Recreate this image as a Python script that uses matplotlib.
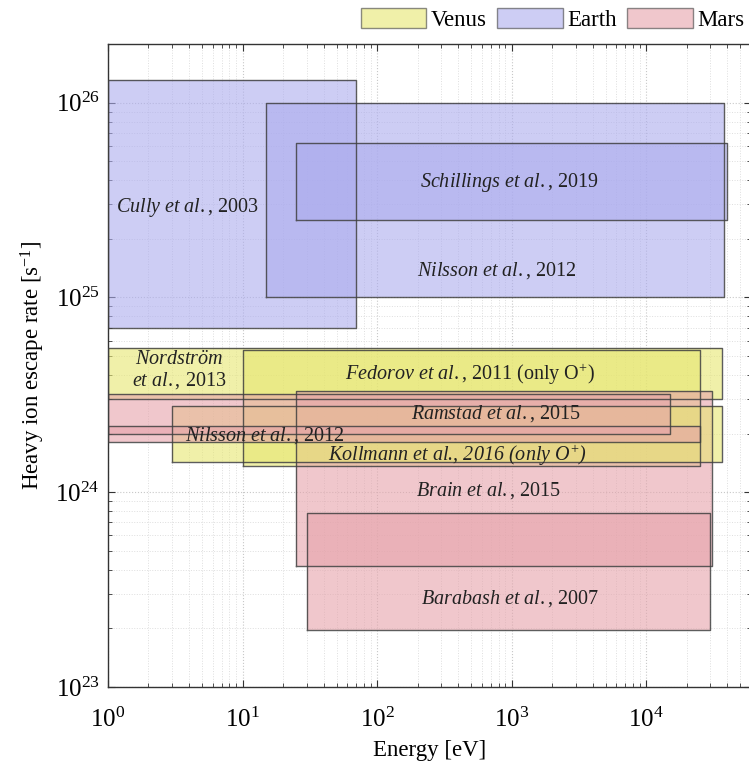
import numpy as np
import matplotlib
matplotlib.use("Agg")
import matplotlib.pyplot as plt
from matplotlib.patches import Patch
from matplotlib.ticker import LogLocator, NullFormatter

plt.rcParams['font.family'] = ['Liberation Serif', 'DejaVu Serif']
plt.rcParams['mathtext.fontset'] = 'custom'
plt.rcParams['mathtext.rm'] = 'Liberation Serif'
plt.rcParams['mathtext.it'] = 'Liberation Serif:italic'

# escape-rate ranges per study: energy range [eV] and rate range [s^-1]
# (listed in drawing order)
planet = ['Earth', 'Earth', 'Earth',
          'Venus', 'Venus',
          'Mars', 'Mars',
          'Venus',
          'Mars', 'Mars']
e_lo = [1, 15, 25,
        1, 10,
        25, 30,
        3,
        1, 1]
e_hi = [70, 3.8e4, 4.0e4,
        3.7e4, 2.5e4,
        3.1e4, 3.0e4,
        3.7e4,
        1.5e4, 2.5e4]
r_lo = [7.0e24, 1.0e25, 2.5e25,
        3.0e24, 1.37e24,
        4.2e23, 1.96e23,
        1.43e24,
        2.0e24, 1.8e24]
r_hi = [1.3e26, 1.0e26, 6.2e25,
        5.5e24, 5.35e24,
        3.3e24, 7.8e23,
        2.76e24,
        3.18e24, 2.18e24]

# study labels and where they sit (energy, rate); last flag = fully italic
labels = [r'$\mathit{Cully\ et\ al.}$, 2003',
          r'$\mathit{Nilsson\ et\ al.}$, 2012',
          r'$\mathit{Schillings\ et\ al.}$, 2019',
          '$\\mathit{Nordstr\\ddot{o}m}$\n$\\mathit{et\\ al.}$, 2013',
          r'$\mathit{Fedorov\ et\ al.}$, 2011 (only O$^{+}$)',
          r'$\mathit{Brain\ et\ al.}$, 2015',
          r'$\mathit{Barabash\ et\ al.}$, 2007',
          r'Kollmann et al., 2016 (only $\mathit{O}^{+}$)',
          r'$\mathit{Ramstad\ et\ al.}$, 2015',
          r'$\mathit{Nilsson\ et\ al.}$, 2012']
label_italic = [False, False, False, False, False, False, False, True, False, False]
label_e = [3.9, 780, 970, 3.4, 490, 670, 970, 394, 767, 14.7]
label_r = [2.9e25, 1.37e25, 3.9e25, 4.17e24, 4.0e24, 1.02e24, 2.86e23, 1.55e24, 2.54e24, 1.96e24]

legend_order = ['Venus', 'Earth', 'Mars']
face = {'Venus': (230/255, 230/255, 113/255),
        'Earth': (172/255, 172/255, 238/255),
        'Mars': (230/255, 163/255, 171/255)}
alpha = 0.6
edge = (0.25, 0.25, 0.25)

fig = plt.figure(figsize=(7.49, 7.68), dpi=100)
ax = fig.add_axes([0.1442, 0.1055, 0.8581, 0.8372])
ax.set_xscale('log')
ax.set_yscale('log')
ax.set_xlim(1, 6e4)
ax.set_ylim(1e23, 2e26)

for p, x0, x1, y0, y1 in zip(planet, e_lo, e_hi, r_lo, r_hi):
    ax.fill([x0, x1, x1, x0], [y0, y0, y1, y1], facecolor=face[p], alpha=alpha,
            edgecolor='none', zorder=2)
    ax.plot([x0, x1, x1, x0, x0], [y0, y0, y1, y1, y0], color=edge, lw=1.0,
            alpha=0.85, zorder=3)

for txt, it, xe, yr in zip(labels, label_italic, label_e, label_r):
    ax.text(xe, yr, txt, fontsize=14.5, ha='center', va='center',
            style='italic' if it else 'normal',
            color='#222222', zorder=5, linespacing=1.0)

ax.grid(True, which='major', linestyle=':', color='#c8c8c8', lw=0.8, zorder=0)
ax.grid(True, which='minor', linestyle=':', color='#dedede', lw=0.7, zorder=0)
ax.set_axisbelow(True)
ax.xaxis.set_major_locator(LogLocator(base=10, numticks=10))
ax.xaxis.set_minor_locator(LogLocator(base=10, subs=np.arange(2, 10), numticks=20))
ax.yaxis.set_major_locator(LogLocator(base=10, numticks=10))
ax.yaxis.set_minor_locator(LogLocator(base=10, subs=np.arange(2, 10), numticks=20))
ax.xaxis.set_minor_formatter(NullFormatter())
ax.yaxis.set_minor_formatter(NullFormatter())
ax.tick_params(which='both', direction='in', top=True, right=True,
               labelsize=18, color='#333333')
ax.tick_params(which='major', length=5)
ax.tick_params(which='minor', length=3)
ax.tick_params(axis='x', pad=15)
ax.tick_params(axis='y', pad=6)
for s in ax.spines.values():
    s.set_color('#333333')
    s.set_linewidth(1.0)

ax.set_xlabel('Energy [eV]', fontsize=16.5, labelpad=6)
ax.set_ylabel('Heavy ion escape rate [s$^{-1}$]', fontsize=16.5, labelpad=6)

handles = [Patch(facecolor=face[p], alpha=alpha, edgecolor=edge, lw=1.0)
           for p in legend_order]
fig.legend(handles, legend_order, loc='upper right', bbox_to_anchor=(1.012, 1.008),
           ncol=3, frameon=False, fontsize=16.5, handlelength=2.85,
           handleheight=1.0, handletextpad=0.2, columnspacing=0.45,
           borderaxespad=0.2)

fig.savefig('out.png', dpi=100)
